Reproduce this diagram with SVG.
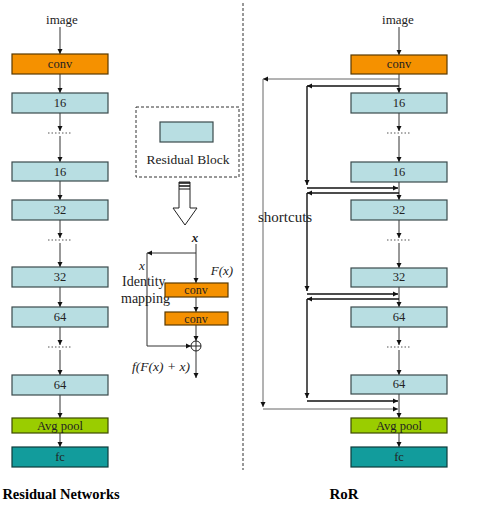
<svg xmlns="http://www.w3.org/2000/svg" width="493" height="520" viewBox="0 0 493 520">
<style>
text{font-family:"Liberation Serif","Times New Roman",serif;fill:#222}
.lbl{font-size:12.5px;text-anchor:middle}
.blue{fill:#b8dee2;stroke:#3a4a4c;stroke-width:1.2}
.orange{fill:#f59100;stroke:#5a3a00;stroke-width:1.2}
.green{fill:#9acd00;stroke:#3d4a00;stroke-width:1.2}
.teal{fill:#129c9c;stroke:#0c3b3b;stroke-width:1.2}
.ln{stroke:#333;stroke-width:1;fill:none}
.sc{stroke:#111;stroke-width:1.4;fill:none}
.sco{stroke:#666;stroke-width:1;fill:none}
.dots{stroke:#555;stroke-width:1;stroke-dasharray:1.5 2}
.it{font-style:italic}
</style>
<defs>
<marker id="ah" markerWidth="6" markerHeight="6" refX="5" refY="3" orient="auto" markerUnits="userSpaceOnUse">
<path d="M0,0.5 L5,3 L0,5.5 Z" fill="#111"/>
</marker>
</defs>

<!-- divider -->
<line x1="243" y1="3" x2="243" y2="470" stroke="#333" stroke-width="1" stroke-dasharray="3 2"/>

<g id="connectors">
<!-- left column -->
<line class="ln" x1="60" y1="27" x2="60" y2="54" marker-end="url(#ah)"/>
<line class="ln" x1="60" y1="74" x2="60" y2="93" marker-end="url(#ah)"/>
<line class="ln" x1="60" y1="113" x2="60" y2="131" marker-end="url(#ah)"/>
<line class="ln" x1="60" y1="136" x2="60" y2="162" marker-end="url(#ah)"/>
<line class="ln" x1="60" y1="181" x2="60" y2="200" marker-end="url(#ah)"/>
<line class="ln" x1="60" y1="220" x2="60" y2="238" marker-end="url(#ah)"/>
<line class="ln" x1="60" y1="243" x2="60" y2="267" marker-end="url(#ah)"/>
<line class="ln" x1="60" y1="287" x2="60" y2="307" marker-end="url(#ah)"/>
<line class="ln" x1="60" y1="327" x2="60" y2="345" marker-end="url(#ah)"/>
<line class="ln" x1="60" y1="350" x2="60" y2="375" marker-end="url(#ah)"/>
<line class="ln" x1="60" y1="395" x2="60" y2="418" marker-end="url(#ah)"/>
<line class="ln" x1="60" y1="433" x2="60" y2="447" marker-end="url(#ah)"/>
<line class="dots" x1="48" y1="133" x2="72" y2="133"/>
<line class="dots" x1="48" y1="240" x2="72" y2="240"/>
<line class="dots" x1="48" y1="347" x2="72" y2="347"/>

<!-- right column -->
<line class="ln" x1="399" y1="27" x2="399" y2="55" marker-end="url(#ah)"/>
<line class="ln" x1="399" y1="74" x2="399" y2="93" marker-end="url(#ah)"/>
<line class="ln" x1="399" y1="113" x2="399" y2="131" marker-end="url(#ah)"/>
<line class="ln" x1="399" y1="136" x2="399" y2="162" marker-end="url(#ah)"/>
<line class="ln" x1="399" y1="182" x2="399" y2="200" marker-end="url(#ah)"/>
<line class="ln" x1="399" y1="220" x2="399" y2="238" marker-end="url(#ah)"/>
<line class="ln" x1="399" y1="243" x2="399" y2="268" marker-end="url(#ah)"/>
<line class="ln" x1="399" y1="287" x2="399" y2="307" marker-end="url(#ah)"/>
<line class="ln" x1="399" y1="327" x2="399" y2="345" marker-end="url(#ah)"/>
<line class="ln" x1="399" y1="350" x2="399" y2="375" marker-end="url(#ah)"/>
<line class="ln" x1="399" y1="394" x2="399" y2="418" marker-end="url(#ah)"/>
<line class="ln" x1="399" y1="433" x2="399" y2="447" marker-end="url(#ah)"/>
<line class="dots" x1="387" y1="133" x2="411" y2="133"/>
<line class="dots" x1="387" y1="240" x2="411" y2="240"/>
<line class="dots" x1="387" y1="347" x2="411" y2="347"/>

<!-- outer shortcut -->
<line class="sco" x1="399" y1="79" x2="263" y2="79" marker-end="url(#ah)"/>
<line class="sco" x1="263" y1="79" x2="263" y2="407" marker-end="url(#ah)"/>
<line class="sco" x1="263" y1="409" x2="398" y2="409" marker-end="url(#ah)"/>

<!-- inner shortcuts -->
<line class="sc" x1="399" y1="86" x2="307" y2="86" marker-end="url(#ah)"/>
<line class="sc" x1="307" y1="86" x2="307" y2="185" marker-end="url(#ah)"/>
<line class="sc" x1="307" y1="188" x2="398" y2="188" marker-end="url(#ah)"/>

<line class="sc" x1="399" y1="193" x2="307" y2="193" marker-end="url(#ah)"/>
<line class="sc" x1="307" y1="193" x2="307" y2="291" marker-end="url(#ah)"/>
<line class="sc" x1="307" y1="294" x2="398" y2="294" marker-end="url(#ah)"/>

<line class="sc" x1="399" y1="299" x2="307" y2="299" marker-end="url(#ah)"/>
<line class="sc" x1="307" y1="299" x2="307" y2="398" marker-end="url(#ah)"/>
<line class="sc" x1="307" y1="401" x2="398" y2="401" marker-end="url(#ah)"/>

<!-- residual block detail -->
<line class="ln" x1="196" y1="244" x2="196" y2="283" marker-end="url(#ah)"/>
<line class="ln" x1="196" y1="253" x2="147" y2="253" marker-end="url(#ah)"/>
<line class="ln" x1="147" y1="253" x2="147" y2="346"/>
<line class="ln" x1="147" y1="346" x2="191" y2="346" marker-end="url(#ah)"/>
<line class="ln" x1="196" y1="297" x2="196" y2="312" marker-end="url(#ah)"/>
<line class="ln" x1="196" y1="325" x2="196" y2="341" marker-end="url(#ah)"/>
<line class="ln" x1="196" y1="351" x2="196" y2="378" marker-end="url(#ah)"/>
</g>

<!-- left column nodes -->
<g id="l-image"><text x="62" y="24" style="font-size:13px;text-anchor:middle">image</text></g>
<g id="l-conv"><rect class="orange" x="12" y="54" width="96" height="20"/><text class="lbl" x="60" y="68">conv</text></g>
<g id="l-16a"><rect class="blue" x="12" y="93" width="96" height="20"/><text class="lbl" x="60" y="107">16</text></g>
<g id="l-16b"><rect class="blue" x="12" y="162" width="96" height="19"/><text class="lbl" x="60" y="176">16</text></g>
<g id="l-32a"><rect class="blue" x="12" y="200" width="96" height="20"/><text class="lbl" x="60" y="214">32</text></g>
<g id="l-32b"><rect class="blue" x="12" y="267" width="96" height="20"/><text class="lbl" x="60" y="281">32</text></g>
<g id="l-64a"><rect class="blue" x="12" y="307" width="96" height="20"/><text class="lbl" x="60" y="321">64</text></g>
<g id="l-64b"><rect class="blue" x="12" y="375" width="96" height="20"/><text class="lbl" x="60" y="389">64</text></g>
<g id="l-avg"><rect class="green" x="12" y="418" width="96" height="15"/><text class="lbl" x="60" y="430">Avg pool</text></g>
<g id="l-fc"><rect class="teal" x="12" y="447" width="96" height="20"/><text class="lbl" x="60" y="461">fc</text></g>
<g id="l-title"><text x="61" y="499" style="font-size:14.5px;font-weight:bold;text-anchor:middle;fill:#000">Residual Networks</text></g>

<!-- right column nodes -->
<g id="r-image"><text x="398" y="24" style="font-size:13px;text-anchor:middle">image</text></g>
<g id="r-conv"><rect class="orange" x="351" y="55" width="96" height="19"/><text class="lbl" x="399" y="68">conv</text></g>
<g id="r-16a"><rect class="blue" x="351" y="93" width="96" height="20"/><text class="lbl" x="399" y="107">16</text></g>
<g id="r-16b"><rect class="blue" x="351" y="162" width="96" height="20"/><text class="lbl" x="399" y="176">16</text></g>
<g id="r-32a"><rect class="blue" x="351" y="200" width="96" height="20"/><text class="lbl" x="399" y="214">32</text></g>
<g id="r-32b"><rect class="blue" x="351" y="268" width="96" height="19"/><text class="lbl" x="399" y="281">32</text></g>
<g id="r-64a"><rect class="blue" x="351" y="307" width="96" height="20"/><text class="lbl" x="399" y="321">64</text></g>
<g id="r-64b"><rect class="blue" x="351" y="375" width="96" height="19"/><text class="lbl" x="399" y="388">64</text></g>
<g id="r-avg"><rect class="green" x="351" y="418" width="96" height="15"/><text class="lbl" x="399" y="430">Avg pool</text></g>
<g id="r-fc"><rect class="teal" x="351" y="447" width="96" height="20"/><text class="lbl" x="399" y="461">fc</text></g>
<g id="r-title"><text x="344" y="499" style="font-size:15px;font-weight:bold;text-anchor:middle;fill:#000">RoR</text></g>
<g id="shortcuts-label"><text x="258" y="222" style="font-size:15px">shortcuts</text></g>

<!-- residual block legend -->
<g id="legend">
<rect x="136" y="107" width="103" height="70" fill="none" stroke="#333" stroke-width="1" stroke-dasharray="3 2"/>
<rect class="blue" x="160" y="122" width="53" height="20"/>
<text x="188" y="164" style="font-size:13.5px;text-anchor:middle">Residual Block</text>
</g>
<g id="hollow-arrow">
<polygon points="179,182 190,182 190,208 197,208 185,225 173,208 179,208" fill="#fff" stroke="#222" stroke-width="1"/>
<line x1="179" y1="183" x2="190" y2="183" stroke="#111" stroke-width="1.5"/>
<line x1="179" y1="186" x2="190" y2="186" stroke="#111" stroke-width="1.5"/>
<line x1="179" y1="189" x2="190" y2="189" stroke="#111" stroke-width="1"/>
</g>
<g id="res-detail">
<text class="it" x="195" y="242" style="font-size:13px;font-weight:bold;text-anchor:middle">x</text>
<text class="it" x="142" y="270" style="font-size:13px;text-anchor:middle">x</text>
<text x="122" y="286" style="font-size:14px">Identity</text>
<text x="121" y="303" style="font-size:14px">mapping</text>
<text class="it" x="222" y="275" style="font-size:13px;text-anchor:middle">F(x)</text>
<rect class="orange" x="165" y="283" width="63" height="14"/>
<text x="196" y="294" style="font-size:12px;text-anchor:middle">conv</text>
<rect class="orange" x="165" y="312" width="63" height="13"/>
<text x="196" y="322.5" style="font-size:12px;text-anchor:middle">conv</text>
<circle cx="196" cy="346" r="5" fill="#fff" stroke="#222" stroke-width="1"/>
<line x1="191" y1="346" x2="201" y2="346" stroke="#222" stroke-width="1"/>
<line x1="196" y1="341" x2="196" y2="351" stroke="#222" stroke-width="1"/>
<text class="it" x="161" y="371" style="font-size:13.5px;text-anchor:middle">f(F(x) + x)</text>
</g>
</svg>
